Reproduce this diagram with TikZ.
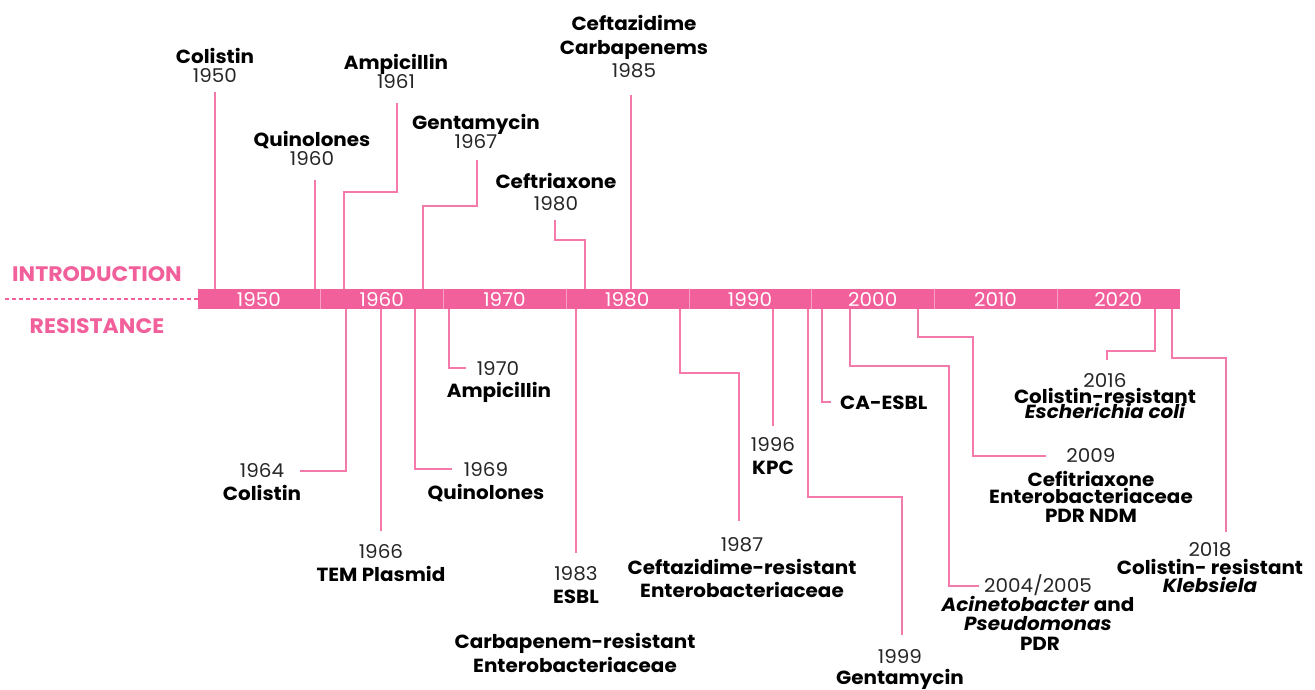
\documentclass[tikz,border=0pt]{standalone}
\usepackage{fontspec}
\setmainfont{Poppins}[FakeStretch=1.05]
\usetikzlibrary{calc}
\definecolor{barpink}{RGB}{242,96,155}
\definecolor{linepink}{RGB}{244,122,172}
\definecolor{seppink}{RGB}{248,160,196}
\tikzset{
  nm/.style={font=\fontsize{19}{22}\selectfont\bfseries, anchor=base, yshift=-7pt, inner sep=0pt},
  nmi/.style={font=\fontsize{19}{22}\selectfont\bfseries\itshape, anchor=base, yshift=-7pt, inner sep=0pt},
  yr/.style={font=\fontsize{19}{22}\selectfont, anchor=base, yshift=-7pt, inner sep=0pt, text=black!85},
  side/.style={font=\fontsize{21}{24}\selectfont\bfseries, text=barpink, anchor=base, yshift=-7.5pt, inner sep=0pt},
  barlbl/.style={font=\fontsize{19}{22}\selectfont, text=white, anchor=base, yshift=-7pt, inner sep=0pt},
  conn/.style={draw=linepink, line width=1.3pt},
}
\begin{document}
\begin{tikzpicture}[x=1pt,y=-1pt]
\useasboundingbox (0,0) rectangle (1315,689);
% side labels and dashed lead-in
\node[side] (intro) at (97,274) {INTRODUCTION};
\node[side] (resist) at (97,326) {RESISTANCE};
\coordinate (dashstart) at (5,299);
% bar
\node[fill=barpink, inner sep=0pt, minimum width=982pt, minimum height=20pt, anchor=north west] (bar) at (198,289) {};
\draw[barpink, line width=1.2pt, dash pattern=on 4pt off 3pt] (dashstart) -- (dashstart -| bar.west);
\foreach \i in {1,...,7} {
  \draw[seppink, line width=0.8pt] ($(bar.north west)+(\i*122.75,0)$) -- ($(bar.south west)+(\i*122.75,0)$);
}
\foreach \y [count=\i from 0] in {1950,1960,1970,1980,1990,2000,2010,2020} {
  \node[barlbl] (b\y) at (259+\i*122.75,299) {\y};
}
% ===== introduction (top) =====
\node[nm] (t1n) at (215,56) {Colistin};
\node[yr] (t1y) at (215,75) {1950};
\node[nm] (t2n) at (312,139) {Quinolones};
\node[yr] (t2y) at (312,158) {1960};
\node[nm] (t3n) at (396,62) {Ampicillin};
\node[yr] (t3y) at (396,81) {1961};
\node[nm] (t4n) at (476,122) {Gentamycin};
\node[yr] (t4y) at (476,141) {1967};
\node[nm] (t5n) at (556,181) {Ceftriaxone};
\node[yr] (t5y) at (556,203) {1980};
\node[nm] (t6a) at (634,23) {Ceftazidime};
\node[nm] (t6b) at (634,47) {Carbapenems};
\node[yr] (t6y) at (634,70) {1985};

\coordinate (u1) at (215,92);
\coordinate (u2) at (315,180);
\coordinate (u3) at (397,103);
\coordinate (u4) at (477,160);
\coordinate (u5) at (555,220);
\coordinate (u6) at (631,95);
\draw[conn] (u1) -- (u1 |- bar.north);
\draw[conn] (u2) -- (u2 |- bar.north);
\draw[conn] (u3) -- (397,192) -- (344,192) -- (344,289);
\draw[conn] (u4) -- (477,206) -- (423,206) -- (423,289);
\draw[conn] (u5) -- (555,240) -- (585,240) -- (585,289);
\draw[conn] (u6) -- (u6 |- bar.north);

% ===== resistance (bottom) =====
\node[yr] (r1y) at (262,470) {1964};
\node[nm] (r1n) at (262,493) {Colistin};
\node[yr] (r2y) at (381,551) {1966};
\node[nm] (r2n) at (381,574) {TEM Plasmid};
\node[yr] (r3y) at (486,469) {1969};
\node[nm] (r3n) at (486,492) {Quinolones};
\node[yr] (r4y) at (498,368) {1970};
\node[nm] (r4n) at (499,390) {Ampicillin};
\node[yr] (r5y) at (576,573) {1983};
\node[nm] (r5n) at (576,596) {ESBL};
\node[nm] (r6a) at (575,641) {Carbapenem-resistant};
\node[nm] (r6b) at (575,665) {Enterobacteriaceae};
\node[yr] (r7y) at (742,544) {1987};
\node[nm] (r7a) at (742,567) {Ceftazidime-resistant};
\node[nm] (r7b) at (742,590) {Enterobacteriaceae};
\node[yr] (r8y) at (773,444) {1996};
\node[nm] (r8n) at (773,467) {KPC};
\node[nm, anchor=base west] (r9n) at (840,402) {CA-ESBL};
\node[yr] (r10y) at (900,656) {1999};
\node[nm] (r10n) at (900,677) {Gentamycin};
\node[yr] (r11y) at (1038,585) {2004/2005};
\node[nm] (r11a) at (1038,604) {\textit{Acinetobacter} and};
\node[nmi] (r11b) at (1038,623) {Pseudomonas};
\node[nm] (r11c) at (1040,643) {PDR};
\node[yr] (r12y) at (1091,455) {2009};
\node[nm] (r12a) at (1091,479) {Cefitriaxone};
\node[nm] (r12b) at (1091,496) {Enterobacteriaceae};
\node[nm] (r12c) at (1091,515) {PDR NDM};
\node[yr] (r13y) at (1105,380) {2016};
\node[nm] (r13a) at (1105,396) {Colistin-resistant};
\node[nmi] (r13b) at (1105,411) {Escherichia coli};
\node[yr] (r14y) at (1210,549) {2018};
\node[nm] (r14a) at (1210,567) {Colistin- resistant};
\node[nmi] (r14b) at (1210,585) {Klebsiela};

\coordinate (d1) at (300,471);
\coordinate (d2) at (381,531);
\coordinate (d3) at (452,469);
\coordinate (d4) at (466,368);
\coordinate (d5) at (576,553);
\coordinate (d7) at (739,521);
\coordinate (d8) at (773,426);
\coordinate (d9) at (831,402);
\coordinate (d10) at (902,635);
\coordinate (d11) at (979,586);
\coordinate (d12) at (1046,456);
\coordinate (d13) at (1107,360);
\coordinate (d14) at (1226,532);
\draw[conn] (346,309) -- (346,471) -- (d1);
\draw[conn] (d2 |- bar.south) -- (d2);
\draw[conn] (415,309) -- (415,469) -- (d3);
\draw[conn] (449,309) -- (449,368) -- (d4);
\draw[conn] (d5 |- bar.south) -- (d5);
\draw[conn] (680,309) -- (680,373) -- (739,373) -- (d7);
\draw[conn] (d8 |- bar.south) -- (d8);
\draw[conn] (822,309) -- (822,402) -- (d9);
\draw[conn] (808,309) -- (808,497) -- (902,497) -- (d10);
\draw[conn] (850,309) -- (850,366) -- (949,366) -- (949,586) -- (d11);
\draw[conn] (918,309) -- (918,337) -- (973,337) -- (973,456) -- (d12);
\draw[conn] (1155,309) -- (1155,351) -- (1107,351) -- (d13);
\draw[conn] (1172,309) -- (1172,358) -- (1226,358) -- (d14);
\end{tikzpicture}
\end{document}
